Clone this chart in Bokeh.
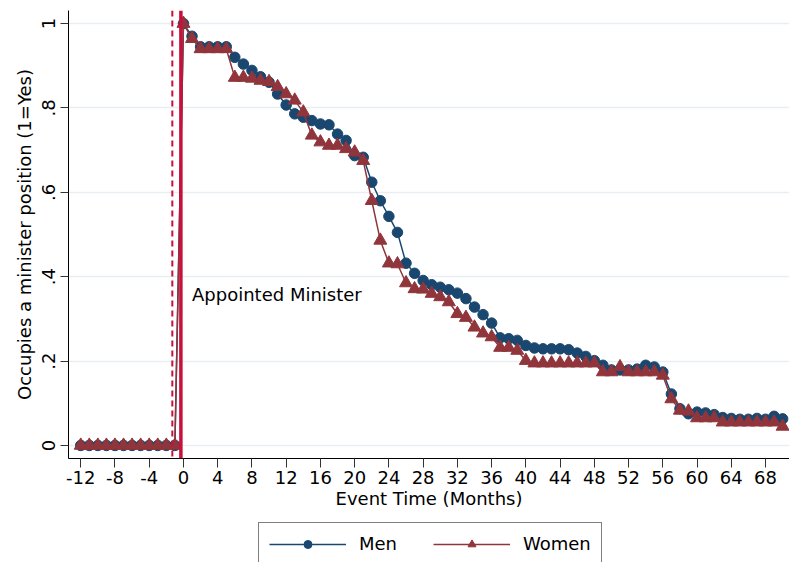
import math
from bokeh.plotting import figure
from bokeh.layouts import column
from bokeh.models import Span, Label, Legend, LegendItem, FixedTicker, ColumnDataSource, Range1d
from bokeh.embed import file_html
from bokeh.resources import INLINE

# ---- data ----
months = [-12, -11, -10, -9, -8, -7, -6, -5, -4, -3, -2, -1,
          0, 1, 2, 3, 4, 5, 6, 7, 8, 9, 10, 11, 12, 13, 14, 15, 16, 17, 18, 19,
          20, 21, 22, 23, 24, 25, 26, 27, 28, 29, 30, 31, 32, 33, 34, 35, 36, 37,
          38, 39, 40, 41, 42, 43, 44, 45, 46, 47, 48, 49, 50, 51, 52, 53, 54, 55,
          56, 57, 58, 59, 60, 61, 62, 63, 64, 65, 66, 67, 68, 69, 70]

men = [0, 0, 0, 0, 0, 0, 0, 0, 0, 0, 0, 0,
       1.0, 0.97, 0.945, 0.945, 0.945, 0.945, 0.92, 0.904, 0.889, 0.874, 0.861, 0.833,
       0.807, 0.786, 0.778, 0.77, 0.762, 0.76, 0.738, 0.723, 0.687, 0.683, 0.624, 0.58,
       0.543, 0.505, 0.432, 0.408, 0.391, 0.381, 0.375, 0.369, 0.361, 0.348, 0.328, 0.31,
       0.29, 0.255, 0.253, 0.249, 0.237, 0.231, 0.229, 0.229, 0.229, 0.227, 0.219, 0.211,
       0.201, 0.19, 0.179, 0.179, 0.179, 0.181, 0.19, 0.186, 0.174, 0.122, 0.087, 0.075,
       0.079, 0.077, 0.073, 0.066, 0.064, 0.062, 0.062, 0.064, 0.062, 0.069, 0.063]

women = [0, 0, 0, 0, 0, 0, 0, 0, 0, 0, 0, 0,
         1.0, 0.964, 0.94, 0.94, 0.94, 0.94, 0.872, 0.872, 0.87, 0.865, 0.862, 0.85,
         0.833, 0.818, 0.79, 0.735, 0.719, 0.711, 0.711, 0.703, 0.695, 0.675, 0.58, 0.486,
         0.432, 0.43, 0.385, 0.371, 0.37, 0.36, 0.352, 0.34, 0.312, 0.303, 0.28, 0.266,
         0.257, 0.232, 0.232, 0.225, 0.201, 0.195, 0.195, 0.195, 0.195, 0.195, 0.195, 0.195,
         0.195, 0.174, 0.174, 0.186, 0.174, 0.174, 0.174, 0.174, 0.166, 0.11, 0.083, 0.081,
         0.065, 0.065, 0.065, 0.055, 0.055, 0.055, 0.055, 0.055, 0.055, 0.055, 0.045]

x_ticks = [-12, -8, -4, 0, 4, 8, 12, 16, 20, 24, 28, 32, 36, 40, 44, 48, 52, 56, 60, 64, 68]
x_tick_labels = ["-12", "-8", "-4", "0", "4", "8", "12", "16", "20", "24", "28", "32",
                 "36", "40", "44", "48", "52", "56", "60", "64", "68"]
y_ticks = [0, 0.2, 0.4, 0.6, 0.8, 1.0]
y_tick_labels = ["0", ".2", ".4", ".6", ".8", "1"]
series_names = ["Men", "Women"]

pre_event_line = -1.3
event_line = -0.3
annotation_text = "Appointed Minister"

MEN_COLOR = "#1a476f"
WOMEN_COLOR = "#90353b"
RED = "#c8103c"
FONT = "DejaVu Sans"

src = ColumnDataSource(dict(m=months, men=men, women=women))

p = figure(width=789, height=514,
           x_range=(-13.43, 70.8), y_range=(-0.031, 1.031),
           output_backend="svg", toolbar_location=None,
           min_border_left=68, min_border_top=10, min_border_right=0, min_border_bottom=56,
           background_fill_color="white", border_fill_color="white")
p.outline_line_color = None

# vertical reference lines
p.add_layout(Span(location=pre_event_line, dimension="height", line_color=RED,
                  line_width=2, line_dash="6 4"))
p.add_layout(Span(location=event_line, dimension="height", line_color=RED, line_width=3.5))

p.line("m", "men", source=src, line_color=MEN_COLOR, line_width=1.5)
p.scatter("m", "men", source=src, marker="circle", size=10.5,
          fill_color=MEN_COLOR, line_color=MEN_COLOR)
p.line("m", "women", source=src, line_color=WOMEN_COLOR, line_width=1.5)
p.scatter("m", "women", source=src, marker="triangle", size=13,
          fill_color=WOMEN_COLOR, line_color=WOMEN_COLOR)

p.add_layout(Label(x=1.0, y=0.357, text=annotation_text, text_baseline="middle",
                   text_font=FONT, text_font_size="18px", text_color="black"))

# axes
p.xaxis.ticker = FixedTicker(ticks=x_ticks)
p.xaxis.major_label_overrides = {t: l for t, l in zip(x_ticks, x_tick_labels)}
p.yaxis.ticker = FixedTicker(ticks=y_ticks)
p.yaxis.major_label_overrides = {t: l for t, l in zip(y_ticks, y_tick_labels)}
p.yaxis.major_label_orientation = "vertical"
for ax in (p.xaxis[0], p.yaxis[0]):
    ax.axis_line_color = "#000000"
    ax.axis_line_width = 1
    ax.major_tick_line_color = "#333333"
    ax.major_tick_in = 0
    ax.minor_tick_line_color = None
    ax.major_label_text_font = FONT
    ax.major_label_text_font_size = "18px"
    ax.major_label_text_color = "black"
    ax.axis_label_text_font = FONT
    ax.axis_label_text_font_size = "18px"
    ax.axis_label_text_font_style = "normal"
    ax.axis_label_text_color = "black"
p.xaxis.major_tick_out = 9
p.yaxis.major_tick_out = 8
p.xaxis.major_label_standoff = 3
p.yaxis.major_label_standoff = 5
p.xaxis.axis_label = "Event Time (Months)"
p.yaxis.axis_label = "Occupies a minister position (1=Yes)"
p.xaxis.axis_label_standoff = 1
p.yaxis.axis_label_standoff = 5

p.xgrid.grid_line_color = None
p.ygrid.grid_line_color = "#e8eef2"
p.ygrid.grid_line_width = 1.5

# ---- legend strip below the chart (its ranges keep the data out of view) ----
lf = figure(width=789, height=48, x_range=Range1d(1000, 1001), y_range=Range1d(1000, 1001),
            x_axis_type=None, y_axis_type=None, output_backend="svg", toolbar_location=None,
            min_border_left=0, min_border_right=0, min_border_top=0, min_border_bottom=0,
            background_fill_color="white", border_fill_color="white")
lf.outline_line_color = None
lf.xgrid.grid_line_color = None
lf.ygrid.grid_line_color = None
lm_line = lf.line("m", "men", source=src, line_color=MEN_COLOR, line_width=1.5)
lm_pts = lf.scatter("m", "men", source=src, marker="circle", size=10.5,
                    fill_color=MEN_COLOR, line_color=MEN_COLOR)
lw_line = lf.line("m", "women", source=src, line_color=WOMEN_COLOR, line_width=1.5)
lw_pts = lf.scatter("m", "women", source=src, marker="triangle", size=13,
                    fill_color=WOMEN_COLOR, line_color=WOMEN_COLOR)

legend = Legend(items=[LegendItem(label=series_names[0], renderers=[lm_line, lm_pts]),
                       LegendItem(label=series_names[1], renderers=[lw_line, lw_pts])],
                orientation="horizontal", location=(190, -3),
                border_line_color="#000000", border_line_width=1,
                padding=10, spacing=34, label_standoff=13, glyph_width=77,
                glyph_height=20, label_width=40, label_height=20,
                label_text_font=FONT, label_text_font_size="18px",
                label_text_color="black", margin=0)
lf.add_layout(legend, "center")

open("out.html", "w").write(file_html(column(p, lf, spacing=0), INLINE))
